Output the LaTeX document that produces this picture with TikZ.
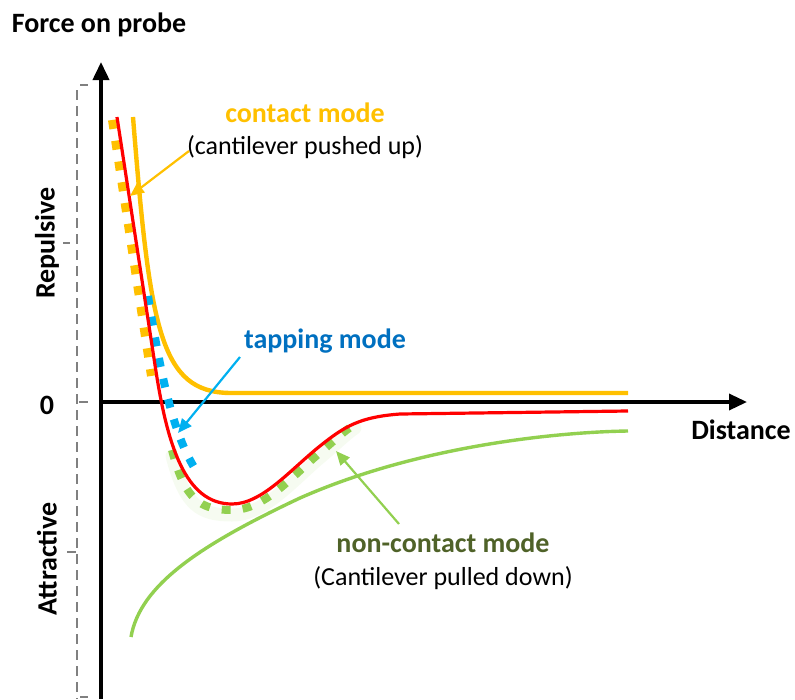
\documentclass[tikz,border=0pt]{standalone}
\usepackage{fontspec}
\setmainfont{Carlito}
\usetikzlibrary{arrows.meta}
\definecolor{cOrange}{HTML}{FFC000}
\definecolor{cRed}{HTML}{FF0000}
\definecolor{cBlue}{HTML}{00B0F0}
\definecolor{cBlueText}{HTML}{0070C0}
\definecolor{cGreen}{HTML}{92D050}
\definecolor{cGreenText}{HTML}{4F6228}
\definecolor{cGray}{HTML}{808080}
\tikzset{
  axis/.style={line width=3.8pt, -{Triangle[length=18pt,width=16pt]}},
  lbl/.style={font=\fontsize{28}{32}\selectfont\bfseries, inner sep=0pt},
  sub/.style={font=\fontsize{26}{30}\selectfont, inner sep=0pt},
  pointer/.style={line width=2.2pt, -{Triangle[length=14pt,width=12pt]}},
  curve/.style={line width=3.2pt},
  dotline/.style={line width=8pt, dash pattern=on 9pt off 12pt},
}
\begin{document}
\begin{tikzpicture}[x=1pt,y=-1pt]
\useasboundingbox (0,0) rectangle (795,699);

% dashed scale bar with ticks
\draw[cGray, line width=1.8pt, dash pattern=on 10pt off 6pt] (77,90) -- (77,699);
\foreach \yy/\xa/\xb in {85/80/88, 243/63/70, 402/79/88, 552/67/76, 697/80/88}
  \draw[cGray, line width=1.8pt] (\xa,\yy) -- (\xb,\yy);

% axes
\coordinate (origin) at (101,402);
\coordinate (ytop) at (101,62);
\coordinate (ybot) at (101,699);
\coordinate (xend) at (747,402);
\draw[axis] (ybot) -- (ytop);
\draw[line width=3.4pt, -{Triangle[length=18pt,width=16pt]}] (origin) -- (xend);

% axis labels
\node[lbl] (force) at (99,25) {Force on probe};
\node[lbl] (dist) at (741,430) {Distance};
\node[lbl] (zero) at (47,405) {0};
\node[lbl, rotate=90] (rep) at (47,243) {Repulsive};
\node[lbl, rotate=90] (att) at (47,559) {Attractive};

% soft glow behind the non-contact dashes
\draw[cGreen, opacity=0.08, line width=13pt, line cap=round]
  (172,456) .. controls (185,506) and (200,515) .. (232,515)
  .. controls (265,515) and (293,480) .. (322,456)
  .. controls (335,445) and (345,435) .. (355,428);

% attractive force curve
\draw[cGreen, line width=3.4pt]
  (131,637) .. controls (140,585) and (200,545) .. (300,498)
  .. controls (420,445) and (560,432) .. (628,431);

% contact mode curve
\draw[cOrange, line width=4.4pt]
  (133,117) .. controls (150,330) and (160,392) .. (230,393) -- (628,393);

% mode markers along the net force curve
\draw[cOrange, dotline] (112,120) -- (151,376);
\draw[cBlue, dotline] (148,296) .. controls (160,370) and (173,440) .. (200,476);
\draw[cGreen, dotline]
  (172,450) .. controls (185,500) and (200,510) .. (232,510)
  .. controls (265,510) and (293,475) .. (322,451)
  .. controls (335,440) and (345,430) .. (357,423);

% net force curve
\draw[cRed, curve]
  (117,117) -- (155,365)
  .. controls (167,445) and (185,504) .. (232,504)
  .. controls (262,504) and (290,470) .. (320,446)
  .. controls (345,426) and (360,417) .. (400,414) -- (628,411);

% labels and pointers
\node[lbl, text=cOrange] (cm) at (305,113) {contact mode};
\node[sub] (cmsub) at (305,147) {(cantilever pushed up)};
\coordinate (cmfrom) at (189,151);
\coordinate (cmtip) at (130,196);
\draw[cOrange, pointer] (cmfrom) -- (cmtip);

\node[lbl, text=cBlueText] (tm) at (325,341) {tapping mode};
\coordinate (tmfrom) at (240,357);
\coordinate (tmtip) at (178,433);
\draw[cBlue, pointer] (tmfrom) -- (tmtip);

\node[lbl, text=cGreenText] (ncm) at (443,543) {non-contact mode};
\node[sub] (ncmsub) at (443,578) {(Cantilever pulled down)};
\coordinate (ncmfrom) at (399,524);
\coordinate (ncmtip) at (336,451);
\draw[cGreen, pointer] (ncmfrom) -- (ncmtip);
\end{tikzpicture}
\end{document}
